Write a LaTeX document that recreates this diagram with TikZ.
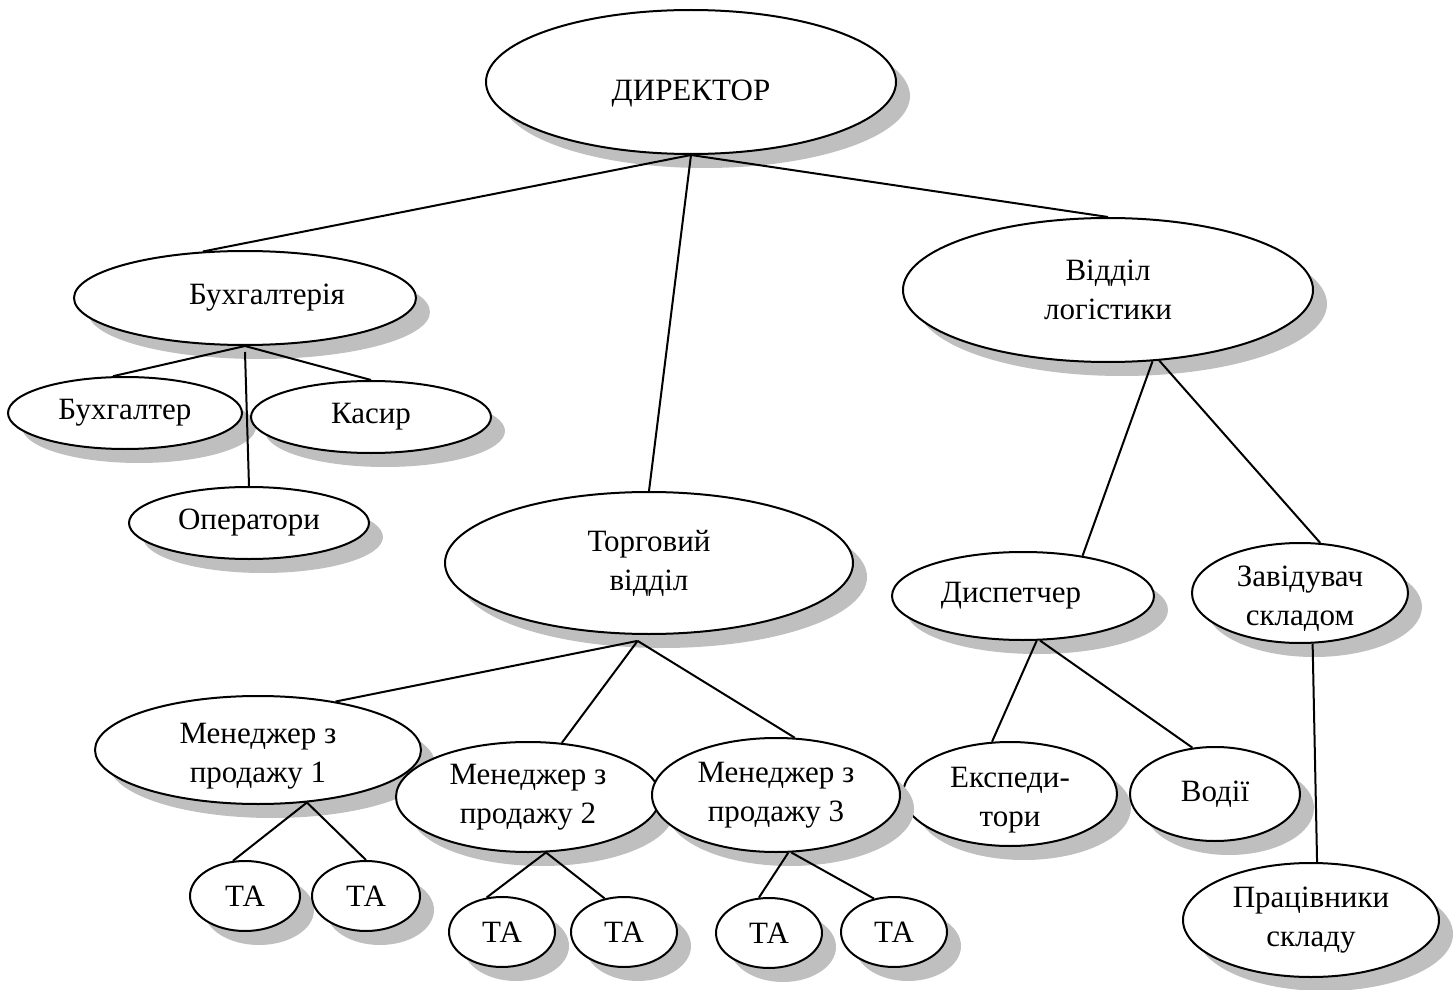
\documentclass[tikz,border=0pt]{standalone}
\usepackage{fontspec}
\setmainfont{Liberation Serif}
\usetikzlibrary{shapes.geometric,shadows}

% lower a label inside its box without changing the box
\newcommand{\lowered}[2]{\raisebox{-#1}[\height][\depth]{#2}}

\begin{document}
\begin{tikzpicture}[x=0.5pt,y=-0.5pt,
  unit/.style={ellipse, draw, line width=1pt, fill=white, inner sep=0pt,
    align=center, font=\fontsize{15.5}{19.5}\selectfont,
    drop shadow={shadow xshift=7pt, shadow yshift=-7pt, fill=black!25, opacity=1}},
  link/.style={line width=1pt}]
\useasboundingbox (0,0) rectangle (1453,990);

% top level
\node[unit, minimum width=205pt, minimum height=72pt] (dir) at (691,82) {\lowered{6pt}{ДИРЕКТОР}};

% accounting
\node[unit, minimum width=171pt, minimum height=47pt] (buh) at (245,298) {\hspace*{22pt}Бухгалтерія};
\node[unit, minimum width=117pt, minimum height=36pt] (buhg) at (125,413) {Бухгалтер};
\node[unit, minimum width=120pt, minimum height=36pt] (kas) at (371,417) {Касир};
\node[unit, minimum width=120pt, minimum height=36pt] (oper) at (249,523) {Оператори};

% logistics
\node[unit, minimum width=205pt, minimum height=72pt] (log) at (1108,290) {Відділ\\логістики};
\node[unit, minimum width=131pt, minimum height=44pt] (disp) at (1023,596) {\hspace*{-12pt}Диспетчер};
\node[unit, minimum width=108pt, minimum height=50pt] (zav) at (1300,593) {\lowered{3pt}{Завідувач}\\\lowered{3pt}{складом}};
\node[unit, minimum width=107pt, minimum height=52pt] (eksp) at (1010,794) {\lowered{3pt}{Експеди-}\\\lowered{3pt}{тори}};
\node[unit, minimum width=85pt, minimum height=47pt] (vod) at (1215,794) {Водії};
\node[unit, minimum width=128pt, minimum height=57pt] (prac) at (1311,920) {Працівники\\складу};

% sales
\node[unit, minimum width=204pt, minimum height=71pt] (torg) at (649,563) {Торговий\\відділ};
\node[unit, minimum width=163pt, minimum height=54pt] (m1) at (258,750) {\lowered{3pt}{Менеджер з}\\\lowered{3pt}{продажу 1}};
\node[unit, minimum width=132pt, minimum height=55pt] (m2) at (528,797) {Менеджер з\\продажу 2};
\node[unit, minimum width=124pt, minimum height=57pt] (m3) at (776,795) {Менеджер з\\продажу 3};

\node[unit, minimum width=55pt, minimum height=35pt] (ta11) at (245,896) {ТА};
\node[unit, minimum width=54pt, minimum height=35pt] (ta12) at (366,896) {ТА};
\node[unit, minimum width=53pt, minimum height=35pt] (ta21) at (502,932) {ТА};
\node[unit, minimum width=53pt, minimum height=35pt] (ta22) at (624,932) {ТА};
\node[unit, minimum width=53pt, minimum height=35pt] (ta31) at (769,933) {ТА};
\node[unit, minimum width=53pt, minimum height=35pt] (ta32) at (894,932) {ТА};

% connectors
\draw[link] (dir.south) -- (buh.132);
\draw[link] (dir.south) -- (torg.north);
\draw[link] (dir.south) -- (log.north);

\draw[link] (buh.south) -- (buhg.108);
\draw[link] (buh.south) -- (kas.north);
\draw[link] ([yshift=-3pt]buh.south) -- (oper.north);

\draw[link] ([yshift=-3pt]torg.-99) -- (m1.32);
\draw[link] ([yshift=-3pt]torg.-99) -- (m2.58);
\draw[link] ([yshift=-3pt]torg.-99) -- (m3.72);

\draw[link] (m1.-47) -- (ta11.109);
\draw[link] (m1.-47) -- (ta12.north);
\draw[link] (m2.-72) -- (ta21.114);
\draw[link] (m2.-72) -- (ta22.120);
\draw[link] (m3.-78) -- (ta31.106);
\draw[link] (m3.-75) -- (ta32.121);

\draw[link] (log.-58) -- (disp.34);
\draw[link] (log.-54) -- (zav.68);
\draw[link] (disp.-73) -- (eksp.109);
\draw[link] (disp.-69) -- (vod.116);
\draw[link] (zav.-76) -- (prac.84);
\end{tikzpicture}
\end{document}
